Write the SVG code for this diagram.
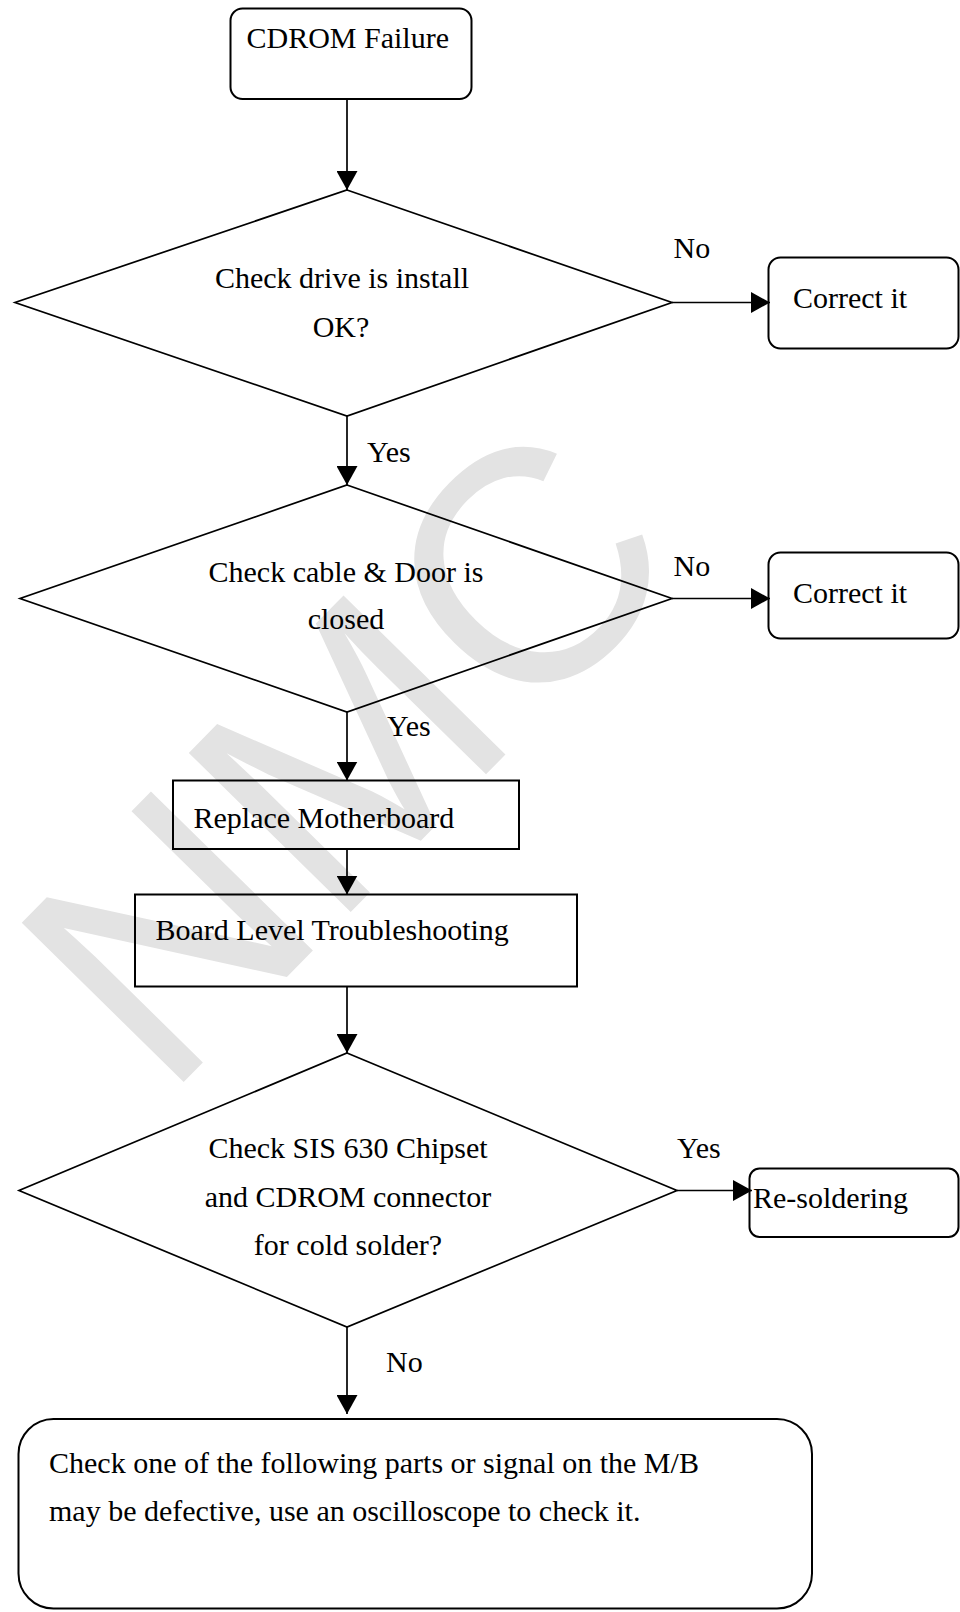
<svg xmlns="http://www.w3.org/2000/svg" width="960" height="1612" viewBox="0 0 960 1612">
<style>
.shape{fill:none;stroke:#000;stroke-width:1.7}
.box{fill:none;stroke:#000;stroke-width:2}
.t{font-family:"Liberation Serif","Times New Roman",serif;font-size:30px;fill:#000}
.c{text-anchor:middle}
.conn{fill:none;stroke:#000;stroke-width:1.7}
.wm{font-family:"Liberation Sans",Arial,sans-serif;font-size:330px;fill:#e3e3e3}
</style>
<defs>
<marker id="arrow" markerUnits="userSpaceOnUse" viewBox="0 0 19 21" refX="19" refY="10.5" markerWidth="19" markerHeight="21" orient="auto">
<path d="M0,0 L19,10.5 L0,21 z" fill="#000"/>
</marker>
</defs>
<rect width="960" height="1612" fill="#fff"/>
<text class="wm" transform="translate(164.7,1101.3) rotate(-45.5)">NMC</text>

<g id="connectors">
<line class="conn" x1="347" y1="99" x2="347" y2="190" marker-end="url(#arrow)"/>
<line class="conn" x1="672" y1="302.5" x2="770" y2="302.5" marker-end="url(#arrow)"/>
<line class="conn" x1="347" y1="416" x2="347" y2="485" marker-end="url(#arrow)"/>
<line class="conn" x1="672" y1="598.5" x2="770" y2="598.5" marker-end="url(#arrow)"/>
<line class="conn" x1="347" y1="712" x2="347" y2="780.5" marker-end="url(#arrow)"/>
<line class="conn" x1="347" y1="849" x2="347" y2="894.5" marker-end="url(#arrow)"/>
<line class="conn" x1="347" y1="986.5" x2="347" y2="1053" marker-end="url(#arrow)"/>
<line class="conn" x1="677" y1="1190.5" x2="752" y2="1190.5" marker-end="url(#arrow)"/>
<line class="conn" x1="347" y1="1327" x2="347" y2="1414" marker-end="url(#arrow)"/>
<text class="t" x="673.5" y="258">No</text>
<text class="t" x="367" y="462">Yes</text>
<text class="t" x="673.5" y="576">No</text>
<text class="t" x="387" y="736">Yes</text>
<text class="t" x="677" y="1158">Yes</text>
<text class="t" x="386" y="1372">No</text>
</g>

<g id="start">
<rect class="box" x="230.5" y="8.5" width="241" height="90.5" rx="12"/>
<text class="t" x="246.5" y="47.5">CDROM Failure</text>
</g>

<g id="decision1">
<polygon class="shape" points="347,190 672,302.5 347,416 15,302.5"/>
<text class="t c" x="342" y="288">Check drive is install</text>
<text class="t c" x="341" y="337">OK?</text>
</g>

<g id="correct1">
<rect class="box" x="768.5" y="257.5" width="190" height="91" rx="12"/>
<text class="t" x="793" y="308">Correct it</text>
</g>

<g id="decision2">
<polygon class="shape" points="347,485 672,598.5 347,712 20,598.5"/>
<text class="t c" x="346" y="582">Check cable &amp; Door is</text>
<text class="t c" x="346" y="629">closed</text>
</g>

<g id="correct2">
<rect class="box" x="768.5" y="552.5" width="190" height="86" rx="12"/>
<text class="t" x="793" y="602.5">Correct it</text>
</g>

<g id="replace">
<rect class="box" x="173" y="780.5" width="346" height="68.5"/>
<text class="t" x="193.5" y="828">Replace Motherboard</text>
</g>

<g id="board">
<rect class="box" x="135" y="894.5" width="442" height="92"/>
<text class="t" x="155.5" y="940">Board Level Troubleshooting</text>
</g>

<g id="decision3">
<polygon class="shape" points="347,1053 677,1190.5 347,1327 19,1190.5"/>
<text class="t c" x="348" y="1158">Check SIS 630 Chipset</text>
<text class="t c" x="348" y="1206.5">and CDROM connector</text>
<text class="t c" x="348" y="1254.5">for cold solder?</text>
</g>

<g id="resolder">
<rect class="box" x="749.5" y="1168.5" width="209" height="68.5" rx="10"/>
<text class="t" x="753" y="1208">Re-soldering</text>
</g>

<g id="checkparts">
<rect class="box" x="18.5" y="1419" width="793.5" height="189.5" rx="35"/>
<text class="t" x="49" y="1473">Check one of the following parts or signal on the M/B</text>
<text class="t" x="49" y="1521">may be defective, use an oscilloscope to check it.</text>
</g>
</svg>
